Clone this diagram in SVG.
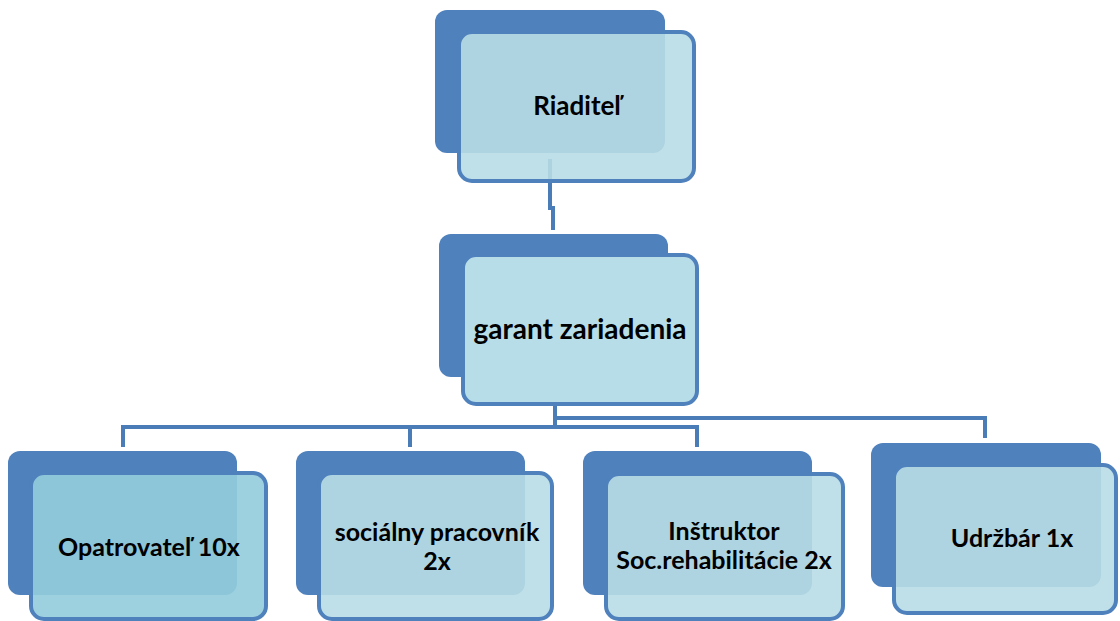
<svg xmlns="http://www.w3.org/2000/svg" width="1120" height="621" viewBox="0 0 1120 621">
  <style>
    .back { fill: #4f81bd; }
    .front { fill: #b8dde6; fill-opacity: 0.9; stroke: #4f81bd; stroke-width: 4; }
    .front.solid { fill: #b7dde8; fill-opacity: 1; }
    .front.dark { fill: #94ccdc; fill-opacity: 0.9; }
    .conn { fill: none; stroke: #4a7db8; stroke-width: 4; stroke-linejoin: miter; }
    .label { font-family: Lato, "Open Sans", "Liberation Sans", sans-serif; font-weight: bold; font-size: 25px; fill: #000; text-anchor: middle; }
    .big { font-size: 28px; }
    .mid { font-size: 26px; }
  </style>
  <rect width="1120" height="621" fill="#ffffff"/>
  <g id="connectors">
    <path class="conn" d="M550 159 V208 H553 V230"/>
    <path class="conn" d="M555 400 V429"/>
    <path class="conn" d="M123 447 V427 H697 V447"/>
    <path class="conn" d="M410 427 V447"/>
    <path class="conn" d="M555 418 H985 V438"/>
  </g>
  <g id="node-riaditel">
    <rect class="back" x="435" y="10" width="230" height="143" rx="12"/>
    <rect class="front" x="459" y="32" width="235" height="149" rx="13"/>
    <text class="label mid" x="577" y="115">Riaditeľ</text>
  </g>
  <g id="node-garant">
    <rect class="back" x="439" y="234" width="229" height="143" rx="12"/>
    <rect class="front solid" x="463" y="255" width="234" height="149" rx="13"/>
    <text class="label big" x="580" y="339">garant zariadenia</text>
  </g>
  <g id="node-opatrovatel">
    <rect class="back" x="8" y="451" width="229" height="144" rx="12"/>
    <rect class="front dark" x="31" y="473" width="235" height="146" rx="13"/>
    <text class="label" x="149" y="556">Opatrovateľ 10x</text>
  </g>
  <g id="node-socialny">
    <rect class="back" x="296" y="451" width="229" height="144" rx="12"/>
    <rect class="front" x="319" y="473" width="233" height="146" rx="13"/>
    <text class="label" x="437" y="541">sociálny pracovník</text>
    <text class="label" x="437" y="570">2x</text>
  </g>
  <g id="node-instruktor">
    <rect class="back" x="583" y="451" width="229" height="144" rx="12"/>
    <rect class="front" x="606" y="474" width="237" height="145" rx="13"/>
    <text class="label" x="724" y="540">Inštruktor</text>
    <text class="label" x="724" y="569">Soc.rehabilitácie 2x</text>
  </g>
  <g id="node-udrzbar">
    <rect class="back" x="871" y="443" width="230" height="144" rx="12"/>
    <rect class="front" x="894" y="465" width="222" height="148" rx="13"/>
    <text class="label" x="1012" y="547">Udržbár 1x</text>
  </g>
</svg>
